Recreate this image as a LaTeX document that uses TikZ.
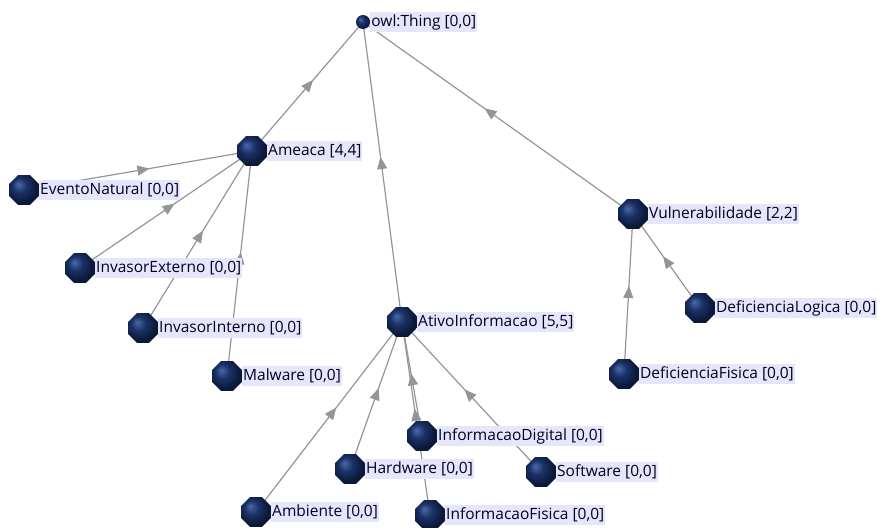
\documentclass[tikz,border=0pt]{standalone}
\usepackage{fontspec}
\setmainfont{Open Sans}
\usetikzlibrary{positioning,shapes.geometric,arrows.meta,decorations.markings}
\pgfdeclarelayer{background}
\pgfsetlayers{background,main}
\definecolor{navyhi}{HTML}{4A6AA8}
\definecolor{navymid}{HTML}{1B3268}
\definecolor{navydk}{HTML}{0B1838}
\definecolor{lbl}{HTML}{E6E6FA}
\definecolor{edgegray}{HTML}{959595}
\pgfdeclareradialshading{octball}{\pgfpoint{-10bp}{10bp}}{%
  color(0bp)=(navyhi); color(12bp)=(navymid); color(26bp)=(navydk); color(50bp)=(navydk)}
\tikzset{
  cls/.style={regular polygon, regular polygon sides=8, minimum size=32pt,
    inner sep=0pt, shading=octball},
  root/.style={circle, minimum size=14pt, inner sep=0pt, shading=octball},
  lab/.style={fill=lbl, text=black!85!blue, font=\fontsize{15.5}{17}\selectfont,
    inner xsep=1pt, inner ysep=0pt, minimum height=20pt},
  isa/.style={draw=edgegray, line width=1.2pt,
    postaction={decorate},
    decoration={markings, mark=at position 0.55 with
      {\arrow{Triangle[length=12pt,width=10pt,fill=edgegray,color=edgegray]}}}}
}
\begin{document}
\begin{tikzpicture}[x=1pt,y=-1pt]
  \useasboundingbox (0,0) rectangle (882,527);
  % classes
  \node[root] (thing) at (363,22) {};
  \node[lab, right=0pt of thing] {owl:Thing [0,0]};
  \node[cls] (ameaca) at (252,151) {};
  \node[lab, right=0pt of ameaca] {Ameaca [4,4]};
  \node[cls] (evento) at (24,190) {};
  \node[lab, right=0pt of evento] {EventoNatural [0,0]};
  \node[cls] (invext) at (80,268) {};
  \node[lab, right=0pt of invext] {InvasorExterno [0,0]};
  \node[cls] (invint) at (143,328) {};
  \node[lab, right=0pt of invint] {InvasorInterno [0,0]};
  \node[cls] (malware) at (227,376) {};
  \node[lab, right=0pt of malware] {Malware [0,0]};
  \node[cls] (ativo) at (402,322) {};
  \node[lab, right=0pt of ativo] {AtivoInformacao [5,5]};
  \node[cls] (vuln) at (633,214) {};
  \node[lab, right=0pt of vuln] {Vulnerabilidade [2,2]};
  \node[cls] (deflog) at (700,308) {};
  \node[lab, right=0pt of deflog] {DeficienciaLogica [0,0]};
  \node[cls] (deffis) at (624,374) {};
  \node[lab, right=0pt of deffis] {DeficienciaFisica [0,0]};
  \node[cls] (infdig) at (422,436) {};
  \node[lab, right=0pt of infdig] {InformacaoDigital [0,0]};
  \node[cls] (hardware) at (350,469) {};
  \node[lab, right=0pt of hardware] {Hardware [0,0]};
  \node[cls] (software) at (541,472) {};
  \node[lab, right=0pt of software] {Software [0,0]};
  \node[cls] (ambiente) at (256,512) {};
  \node[lab, right=0pt of ambiente] {Ambiente [0,0]};
  \node[cls] (inffis) at (430,515) {};
  \node[lab, right=0pt of inffis] {InformacaoFisica [0,0]};
  % subclass edges
  \begin{pgfonlayer}{background}
    \foreach \sub/\super in {ameaca/thing, ativo/thing, vuln/thing,
        evento/ameaca, invext/ameaca, invint/ameaca, malware/ameaca,
        deflog/vuln, deffis/vuln,
        infdig/ativo, inffis/ativo, hardware/ativo, software/ativo, ambiente/ativo}
      \draw[isa] (\sub.center) -- (\super.center);
  \end{pgfonlayer}
\end{tikzpicture}
\end{document}
